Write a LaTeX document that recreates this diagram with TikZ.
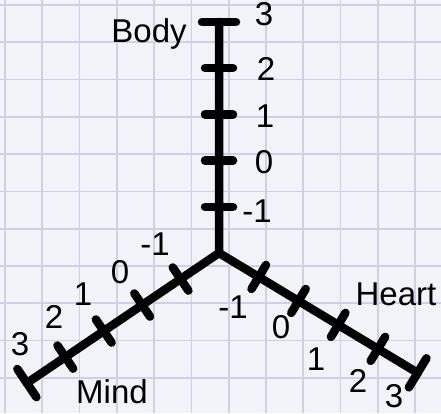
\documentclass[tikz,border=0pt]{standalone}
\usepackage{fontspec}
\setmainfont{Liberation Sans}
\definecolor{paper}{RGB}{242,242,249}
\definecolor{gridc}{RGB}{208,207,230}
\tikzset{
  axisline/.style={line width=8.5pt, line cap=round, line join=round, black},
  tickline/.style={line width=8.5pt, line cap=round, black},
  lbl/.style={font=\fontsize{33}{33}\selectfont, anchor=base, inner sep=0pt},
}
\begin{document}
\begin{tikzpicture}[x=1pt,y=1pt]
\useasboundingbox (0,0) rectangle (441,-413);
\fill[paper] (0,0) rectangle (441,-413);
\foreach \k in {0,...,11} {
  \draw[gridc, line width=1.8pt] ({5+37.28*\k},0) -- ({5+37.28*\k},-413);
  \draw[gridc, line width=1.8pt] (0,{-5-37.28*\k}) -- (441,{-5-37.28*\k});
}
% centre and axis ends
\coordinate (C) at (219,-253);
\coordinate (B) at ([shift={(90:231)}]C);
\coordinate (M) at ([shift={(214.1:232)}]C);
\coordinate (H) at ([shift={(-31.1:232)}]C);
\draw[axisline] (B) -- (C) -- (M);
\draw[axisline] (C) -- (H);
% ticks
\foreach \a/\L in {90/231, 214.1/232, -31.1/232} {
  \foreach \k in {1,...,4} {
    \draw[tickline] ([shift={(\a:\k*\L/5)}]C) ++(\a+90:14) -- ++(\a-90:28);
  }
  \draw[tickline] ([shift={(\a:\L)}]C) ++(\a+90:17) -- ++(\a-90:34);
}
% Body labels
\node[lbl] (tBody) at (149,-42) {Body};
\node[lbl] (b3) at (264,-25) {3};
\node[lbl] (b2) at (266,-80) {2};
\node[lbl] (b1) at (265,-127) {1};
\node[lbl] (b0) at (264,-173) {0};
\node[lbl] (bm1) at (257,-222) {-1};
% Mind labels
\node[lbl] (tMind) at (112,-403) {Mind};
\node[lbl] (m3) at (20,-355) {3};
\node[lbl] (m2) at (54,-328) {2};
\node[lbl] (m1) at (83,-305) {1};
\node[lbl] (m0) at (120,-283) {0};
\node[lbl] (mm1) at (155,-255) {-1};
% Heart labels
\node[lbl] (tHeart) at (396,-305) {Heart};
\node[lbl] (h3) at (394,-407) {3};
\node[lbl] (h2) at (358,-392) {2};
\node[lbl] (h1) at (316,-370) {1};
\node[lbl] (h0) at (281,-338) {0};
\node[lbl] (hm1) at (233,-318) {-1};
\end{tikzpicture}
\end{document}
